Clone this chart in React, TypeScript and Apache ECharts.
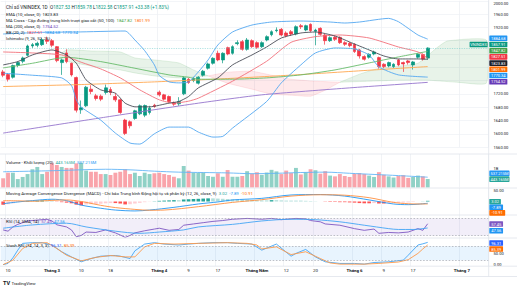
import React, { useEffect, useRef } from "react";
import * as echarts from "echarts";

const FONT = "Roboto, 'Noto Sans', 'DejaVu Sans', sans-serif";
const TEXT = "#131722";
const UP = "#089981";
const DOWN = "#f23645";

// trading sessions (the last ones are future, empty sessions)
const dates = [
  "2026-02-09","2026-02-10","2026-02-11","2026-02-12","2026-02-13","2026-02-23","2026-02-24","2026-02-25","2026-02-26","2026-02-27",
  "2026-03-02","2026-03-03","2026-03-04","2026-03-05","2026-03-06","2026-03-09","2026-03-10","2026-03-11","2026-03-12","2026-03-13",
  "2026-03-16","2026-03-17","2026-03-18","2026-03-19","2026-03-20","2026-03-23","2026-03-24","2026-03-25","2026-03-26","2026-03-27",
  "2026-03-30","2026-03-31","2026-04-01","2026-04-02","2026-04-03","2026-04-06","2026-04-07","2026-04-08","2026-04-09","2026-04-10",
  "2026-04-13","2026-04-14","2026-04-15","2026-04-16","2026-04-17","2026-04-20","2026-04-21","2026-04-22","2026-04-23","2026-04-24",
  "2026-04-28","2026-04-29","2026-05-04","2026-05-05","2026-05-06","2026-05-07","2026-05-08","2026-05-11","2026-05-12","2026-05-13",
  "2026-05-14","2026-05-15","2026-05-18","2026-05-19","2026-05-20","2026-05-21","2026-05-22","2026-05-25","2026-05-26","2026-05-27",
  "2026-05-28","2026-05-29","2026-06-01","2026-06-02","2026-06-03","2026-06-04","2026-06-05","2026-06-08","2026-06-09","2026-06-10",
  "2026-06-11","2026-06-12","2026-06-15","2026-06-16","2026-06-17","2026-06-18","2026-06-19","2026-06-22","2026-06-23","2026-06-24",
  "2026-06-25","2026-06-26","2026-06-29","2026-06-30","2026-07-01","2026-07-02","2026-07-03","2026-07-06","2026-07-07","2026-07-08",
];

const tickDates = ["2026-02-10","2026-03-02","2026-03-10","2026-03-18","2026-04-01","2026-04-09","2026-04-17","2026-05-04","2026-05-12","2026-05-20","2026-06-01","2026-06-09","2026-06-17","2026-07-01"];
const tickLabels = ["10","Tháng 3","10","18","Tháng 4","9","17","Tháng Năm","12","20","Tháng 6","9","17","Tháng 7"];
const hiddenPriceTicks = [1760, 1800, 1840, 1880];
const topPriceTick = 2000;

const opens = [
  1786,1778,1770,1806,1818,1836,1864,1866,1868,1882,
  1880,1862,1814,1843,1812,1769,1672,1684,1734,1714,
  1713,1724,1733,1712,1702,1641,1636,1646,1660,1656,
  1664,1686,1725,1717,1712,1693,1690,1720,1764,1760,
  1752,1776,1797,1812,1842,1822,1859,1842,1871,1877,
  1854,1880,1874,1862,1882,1898,1910,1914,1903,1907,
  1900,1925,1912,1929,1908,1917,1897,1880,1890,1890,
  1874,1872,1869,1852,1832,1830,1840,1829,1809,1804,
  1802,1822,1814,1819,1807,1830,1838,1827.53,
];
const closes = [
  1776,1764,1805,1814,1828,1864,1868,1872,1883,1878,
  1866,1820,1822,1817,1777,1671,1678,1740,1727,1706,
  1704,1738,1724,1702,1664,1601,1624,1669,1684,1685,
  1677,1682,1717,1704,1697,1689,1697,1768,1754,1767,
  1770,1788,1810,1827,1822,1842,1840,1862,1874,1854,
  1882,1862,1860,1874,1892,1907,1912,1897,1895,1900,
  1922,1922,1925,1910,1912,1899,1880,1889,1884,1874,
  1869,1865,1847,1834,1824,1839,1846,1802,1802,1814,
  1809,1807,1810,1814,1816,1839,1824.53,1857.91,
];
const lows = [
  1770,1757,1766,1800,1812,1833,1858,1860,1864,1870,
  1860,1815,1777,1812,1772,1664,1660,1680,1719,1700,
  1698,1718,1716,1696,1660,1596,1616,1642,1656,1650,
  1658,1678,1712,1700,1693,1684,1684,1716,1750,1755,
  1748,1772,1793,1808,1818,1812,1836,1838,1866,1850,
  1850,1858,1855,1858,1878,1893,1905,1893,1890,1894,
  1896,1915,1908,1905,1866,1895,1868,1876,1879,1870,
  1864,1860,1843,1826,1820,1826,1836,1796,1797,1800,
  1798,1803,1786,1808,1793,1826,1820,1822.58,
];
const highs = [
  1792,1782,1808,1818,1832,1868,1873,1877,1888,1892,
  1885,1864,1826,1854,1814,1772,1700,1744,1746,1720,
  1718,1748,1740,1722,1705,1645,1640,1672,1688,1688,
  1684,1690,1730,1720,1715,1697,1710,1772,1768,1770,
  1773,1792,1814,1830,1850,1845,1862,1866,1881,1882,
  1888,1884,1878,1878,1896,1911,1920,1918,1908,1912,
  1926,1930,1928,1932,1916,1920,1900,1893,1895,1893,
  1878,1876,1872,1855,1836,1842,1850,1832,1812,1817,
  1812,1825,1817,1822,1819,1842,1842,1859.78,
];

// volume in millions of shares
const volumesM = [
  480,770,770,440,550,700,950,1070,700,820,
  1260,1170,1070,1020,1020,1260,1290,880,820,820,
  700,700,650,770,820,950,700,770,600,770,
  700,740,770,700,650,560,480,1120,880,770,
  770,770,600,560,740,560,910,560,560,600,
  850,720,800,660,780,920,840,700,880,750,
  1020,680,800,950,900,720,850,620,580,700,
  600,550,720,750,700,620,550,800,660,580,
  520,600,640,500,550,620,580,443.165,
];
const volumeMA20 = [[0,820],[11,880],[21,950],[26,920],[31,850],[36,800],[41,780],[46,760],[51,720],[56,740],[61,780],[66,800],[71,740],[76,680],[81,620],[87,537.215]];

// overlays on the price pane, [session index, value]
const ema10 = [[0,1807],[3,1817],[6,1837],[10,1852],[13,1837],[15,1812],[17,1762],[20,1732],[23,1722],[25,1692],[27,1681],[30,1681],[34,1692],[36,1697],[38,1712],[40,1738],[44,1768],[47,1807],[51,1837],[54,1861],[57,1888],[61,1903],[64,1906],[68,1894],[71,1876],[75,1852],[78,1834],[81,1825],[85,1825],[87,1823.83]];
const ma50 = [[0,1798],[6,1812],[13,1830],[20,1817],[27,1797],[34,1777],[38,1770],[40,1764],[47,1764],[54,1768],[61,1777],[68,1792],[75,1813],[81,1831],[87,1847.82]];
const ma100 = [[0,1742],[16,1748],[31,1756],[46,1766],[61,1778],[76,1792],[87,1801.99]];
const ma200 = [[0,1602],[21,1650],[40,1692],[53,1717],[71,1738],[87,1754.52]];
const bbUpper = [[0,1900],[8,1905],[15,1906],[25,1909],[27,1882],[29,1850],[31,1807],[32,1775],[34,1756],[36,1753],[38,1756],[40,1786],[42,1822],[44,1867],[47,1906],[51,1927],[55,1936],[61,1939],[67,1936],[70,1933],[73,1936],[79,1947],[81,1937],[85,1897],[87,1884.68]];
const bbBasis = [[0,1846],[6,1843],[12,1837],[16,1815],[20,1795],[24,1768],[28,1732],[32,1702],[35,1692],[38,1698],[40,1707],[47,1758],[54,1818],[59,1875],[64,1892],[69,1897],[75,1888],[81,1861],[85,1846],[87,1827.51]];
const bbLower = [[0,1782],[6,1776],[12,1768],[14,1745],[15,1702],[16,1680],[20,1641],[23,1602],[26,1572],[28,1569],[31,1600],[34,1620],[38,1620],[40,1605],[43,1590],[45,1592],[47,1617],[54,1697],[57,1753],[61,1807],[64,1843],[68,1858],[72,1855],[75,1837],[77,1801],[81,1777],[87,1770.34]];

// Ichimoku cloud edges
const cloud1Upper = [[11,1830],[13,1852],[18,1849],[24,1846],[27,1828],[31,1822],[36,1813],[39,1792],[42,1774]];
const cloud1Lower = [[11,1830],[13,1818],[18,1804],[24,1792],[27,1783],[31,1774],[36,1768],[39,1771],[42,1774]];
const cloud2Upper = [[42,1774],[46,1785],[51,1788],[55,1776],[59,1764],[64,1758],[69,1755]];
const cloud2Lower = [[42,1774],[46,1752],[51,1734],[55,1719],[59,1716],[63,1713],[66,1731],[69,1755]];
const cloud3Upper = [[69,1755],[73,1779],[77,1797],[81,1803],[85,1812],[87,1835],[89,1860],[91,1879],[99,1882]];
const cloud3Lower = [[69,1755],[75,1758],[81,1761],[87,1761],[93,1755],[99,1752]];

const macdLine = [[0,-10],[3,-2],[6,4],[10,10],[13,4],[16,-16],[20,-30],[23,-38],[27,-42],[30,-38],[35,-26],[40,-11],[44,-2],[47,7],[53,14],[59,29],[65,31],[70,24],[75,7],[80,-11],[83,-14],[85,-12],[87,-7.89]];
const macdSignal = [[0,4],[3,3],[6,1],[10,5],[13,7],[16,0],[20,-17],[23,-27],[27,-35],[30,-39],[33,-38],[40,-23],[47,-4],[53,8],[59,24],[65,30],[70,28],[75,17],[80,-4],[83,-10],[85,-11],[87,-10.91]];
const macdHist = [
  -14,-12,-8,-3,1,3,3,4,5,4,
  3,-1,-3,-5,-8,-14,-17,-13,-12,-11,
  -10,-8,-7,-7,-9,-13,-12,-9,-6,-3,
  -1,1,3,4,5,6,6,9,10,11,
  12,13,14,14,13,12,11,10,9,8,
  8,7,6,5,5,6,6,5,4,4,
  4,4,3,2,1,0,-1,-2,-2,-3,
  -3,-4,-5,-7,-8,-8,-7,-9,-9,-8,
  -7,-6,-5,-4,-2,0,0.5,3.02,
];

const rsi = [[0,43],[1,40],[2,50],[3,56],[5,64],[7,66],[9,68],[10,64],[11,55],[13,50],[14,43],[15,27],[16,30],[17,38],[19,37],[21,43],[23,36],[24,31],[25,25.5],[26,30],[27,36],[29,41],[31,45],[32,47],[34,42],[36,44],[37,54],[39,57],[41,60],[43,63],[45,65],[47,68],[50,70],[53,68],[55,70],[57,67],[60,70],[62,69],[63,65],[65,62],[66,57],[69,54],[72,46],[74,42],[76,45],[77,35],[79,37],[81,36],[83,38],[85,46],[86,42],[87,57.45]];
const rsiMA = [[0,47],[6,54.7],[13,58.7],[17,50],[23,40],[28,35],[32,38],[37,43],[40,50],[47,56],[53,64],[59,68],[64,67],[69,62],[74,54],[79,46],[81,44],[84,44],[87,47.56]];

const stochK = [[0,1],[1,6],[2,30],[3,63],[4,92],[6,95],[8,95],[10,85],[12,56],[14,34],[16,13],[18,27],[20,37],[23,40],[24,37],[26,27],[27,60],[29,89],[31,95],[33,89],[36,85],[38,89],[40,92],[43,95],[46,95],[48,92],[51,89],[53,63],[56,89],[59,37],[60,49],[62,66],[64,34],[66,13],[69,6],[72,6],[74,3],[76,10],[79,13],[82,20],[83,41],[85,85],[86,90],[87,96.31]];
const stochD = [[0,1],[2,20],[4,70],[6,92],[9,95],[11,70],[13,41],[16,17],[19,32],[22,40],[25,34],[27,34],[29,77],[31,92],[35,89],[40,92],[46,95],[50,92],[52,85],[53,68],[56,77],[59,44],[62,56],[65,27],[67,8],[69,3],[74,3],[77,6],[81,12],[83,22],[85,49],[86,68],[87,85.39]];

const lastOf = (a: number[][]) => a[a.length - 1][1];
const f2 = (v: number) => v.toFixed(2);

function buildOption(): any {
  const tickIdx = tickDates.map((d) => dates.indexOf(d));
  const tickSet = new Set(tickIdx);
  const labelOf = (i: number) => tickLabels[tickIdx.indexOf(i)] ?? "";
  const n = closes.length;
  const lastClose = closes[n - 1];
  const change = lastClose - closes[n - 2];
  const pct = (change / closes[n - 2]) * 100;

  const panes = [
    { top: 0.75, height: 146.3 },
    { top: 154, height: 33.5 },
    { top: 188, height: 27 },
    { top: 215, height: 23 },
    { top: 238, height: 28 },
  ];
  const grid = panes.map((p) => ({ left: 0.7, right: 28.3, top: p.top, height: p.height, containLabel: false, outerBoundsMode: "none" }));

  const xAxis = panes.map((_, k) => ({
    type: "category", gridIndex: k, data: dates, boundaryGap: true,
    axisLine: { show: false }, axisTick: { show: false },
    axisLabel: k === 4 ? {
      show: true, interval: (i: number) => tickSet.has(i), margin: 2.6,
      fontSize: 4.4, color: TEXT, fontFamily: FONT,
      formatter: (_v: string, i: number) => { const t = labelOf(i); return t.startsWith("Tháng") ? `{m|${t}}` : t; },
      rich: { m: { fontSize: 4.4, fontWeight: "bold", color: TEXT, fontFamily: FONT } },
    } : { show: false },
    splitLine: { show: true, interval: (i: number) => tickSet.has(i), lineStyle: { color: "#eef0f4", width: 0.8 } },
  }));

  const lab = (fmt: (v: number) => string) => ({ show: true, margin: 4.8, fontSize: 4.1, color: TEXT, fontFamily: FONT, formatter: fmt });
  const bare = { axisLine: { show: false }, axisTick: { show: false } };
  const yAxis = [
    { type: "value", gridIndex: 0, position: "right", min: 1560, max: topPriceTick, interval: 40, ...bare,
      axisLabel: lab((v) => (hiddenPriceTicks.includes(v) || v === topPriceTick ? "" : f2(v))),
      splitLine: { show: true, lineStyle: { color: "#f0f2f6", width: 0.8 } } },
    { type: "value", gridIndex: 1, position: "right", min: 0, max: 1745, interval: 500, ...bare,
      axisLabel: lab((v) => (v === 1000 ? "1B" : "")), splitLine: { show: false } },
    { type: "value", gridIndex: 2, position: "right", min: -60, max: 60, interval: 10, ...bare,
      axisLabel: lab((v) => (v === 50 ? "50.00" : "")), splitLine: { show: false } },
    { type: "value", gridIndex: 3, position: "right", min: 24, max: 78, ...bare,
      axisLabel: { show: false }, splitLine: { show: false } },
    { type: "value", gridIndex: 4, position: "right", min: -5, max: 115, interval: 5, ...bare,
      axisLabel: lab((v) => (v === 0 || v === 50 ? f2(v) : "")), splitLine: { show: false } },
  ];

  const line = (data: number[][], color: string, ax: number, width = 0.9, smooth: any = 0.2, z = 4, extra: any = {}) => ({
    type: "line", xAxisIndex: ax, yAxisIndex: ax, data, symbol: "none", showSymbol: false, smooth,
    lineStyle: { color, width }, silent: true, z, ...extra,
  });

  const clouds = [
    { upper: cloud1Upper, lower: cloud1Lower, fill: "rgba(67,160,71,0.12)", edge: "rgba(67,160,71,0.28)" },
    { upper: cloud2Upper, lower: cloud2Lower, fill: "rgba(242,54,69,0.11)", edge: "rgba(242,54,69,0.22)" },
    { upper: cloud3Upper, lower: cloud3Lower, fill: "rgba(67,160,71,0.12)", edge: "rgba(67,160,71,0.28)" },
  ];

  const histColors = macdHist.map((h, k) => {
    const prev = k > 0 ? macdHist[k - 1] : h;
    if (h >= 0) return prev < h ? "#26a69a" : "#b2dfdb";
    return prev < h ? "#ffcdd2" : "#ff5252";
  });

  const series: any[] = [
    {
      type: "custom", xAxisIndex: 0, yAxisIndex: 0, z: 1, silent: true,
      data: clouds.map((c) => c.upper[0]), encode: { x: 0, y: 1 },
      renderItem: (params: any, api: any) => {
        const c = clouds[params.dataIndex];
        const pts = [...c.upper, ...c.lower.slice().reverse()].map((p) => api.coord(p));
        return { type: "polygon", shape: { points: pts, smooth: 0.15 }, style: { fill: c.fill, stroke: c.edge, lineWidth: 0.5 } };
      },
    },
    line(ma200, "#9575cd", 0),
    line(ma100, "#ffa74f", 0),
    line(ma50, "#66bb6a", 0),
    line(bbUpper, "#52a7f0", 0),
    line(bbLower, "#52a7f0", 0),
    line(bbBasis, "#f2707a", 0),
    line(ema10, "#4a4d57", 0),
    {
      type: "candlestick", xAxisIndex: 0, yAxisIndex: 0, z: 3, silent: true, barWidth: 3.3,
      data: opens.map((o, k) => [o, closes[k], lows[k], highs[k]]),
      itemStyle: { color: UP, color0: DOWN, borderColor: UP, borderColor0: DOWN, borderWidth: 0.7 },
      markLine: {
        silent: true, symbol: ["none", "none"], label: { show: false },
        lineStyle: { color: "#5cc4c4", type: [1.2, 1.2], width: 0.6, opacity: 0.8 },
        data: [{ yAxis: lastClose }],
      },
    },
    {
      type: "bar", xAxisIndex: 1, yAxisIndex: 1, z: 2, silent: true, barWidth: 3.9,
      data: volumesM.map((v, k) => ({ value: v, itemStyle: { color: closes[k] >= opens[k] ? "rgba(8,153,129,0.45)" : "rgba(242,54,69,0.45)" } })),
    },
    line(volumeMA20, "#64b5f6", 1, 0.9, 0.3),
    {
      type: "bar", xAxisIndex: 2, yAxisIndex: 2, z: 2, silent: true, barWidth: 3.6,
      data: macdHist.map((v, k) => ({ value: v, itemStyle: { color: histColors[k] } })),
    },
    line(macdLine, "#2196f3", 2, 0.9, 0.3),
    line(macdSignal, "#ff8f3f", 2, 0.9, 0.3),
    line(rsi, "#7e57c2", 3, 0.9, false, 4, {
      markArea: { silent: true, itemStyle: { color: "rgba(126,87,194,0.1)" }, data: [[{ yAxis: 70 }, { yAxis: 30 }]] },
      markLine: { silent: true, symbol: ["none", "none"], label: { show: false }, lineStyle: { color: "#9598a1", type: [1.6, 1.6], width: 0.6 }, data: [{ yAxis: 70 }, { yAxis: 30 }] },
    }),
    line(rsiMA, "#42a5f5", 3, 0.9, 0.3),
    line(stochK, "#42a5f5", 4, 0.9, false, 4, {
      markArea: { silent: true, itemStyle: { color: "rgba(33,150,243,0.1)" }, data: [[{ yAxis: 80 }, { yAxis: 20 }]] },
      markLine: { silent: true, symbol: ["none", "none"], label: { show: false }, lineStyle: { color: "#9598a1", type: [1.6, 1.6], width: 0.6 }, data: [{ yAxis: 80 }, { yAxis: 20 }] },
    }),
    line(stochD, "#ff9a4a", 4, 0.9, false),
  ];

  // ---------- graphic overlay: legends, price tags, separators ----------
  const g: any[] = [];
  const text = (x: number, y: number, parts: [string, string][], size = 4.3) => {
    const rich: any = {};
    let s = "";
    parts.forEach(([t, c], k) => {
      rich["p" + k] = { fill: c, fontSize: size, fontFamily: FONT };
      s += `{p${k}|${t}}`;
    });
    g.push({ type: "text", x, y, z: 100, silent: true, style: { text: s, rich, fontSize: size, fontFamily: FONT, fill: TEXT, verticalAlign: "middle", align: "left" } });
  };
  const tag = (x: number, y: number, label: string, color: string) => {
    const w = label.length * 2.15 + 3;
    g.push({ type: "rect", z: 101, silent: true, shape: { x, y: y - 2.8, width: w, height: 5.6, r: 0.6 }, style: { fill: color } });
    g.push({ type: "text", z: 102, silent: true, x: x + w / 2, y, style: { text: label, fill: "#ffffff", fontSize: 4, fontFamily: FONT, align: "center", verticalAlign: "middle" } });
  };
  const hLine = (y: number) => g.push({ type: "line", z: 90, silent: true, shape: { x1: 0, y1: y, x2: 517, y2: y }, style: { stroke: "#e0e3eb", lineWidth: 0.8 } });

  [154, 188, 215, 238, 266.2, 276.5].forEach(hLine);
  g.push({ type: "line", z: 90, silent: true, shape: { x1: 488.7, y1: 0, x2: 488.7, y2: 276.5 }, style: { stroke: "#e0e3eb", lineWidth: 0.8 } });

  // top price tick label, pushed inside the pane like the original scale does
  g.push({ type: "text", x: 493.5, y: 3.6, z: 100, silent: true, style: { text: f2(topPriceTick), fill: TEXT, fontSize: 4.1, fontFamily: FONT, verticalAlign: "middle", align: "left" } });

  const up = change >= 0 ? UP : DOWN;
  text(6, 7.3, [
    ["Chỉ số VNINDEX, 1D  ", TEXT], ["O", TEXT], [f2(opens[n - 1]) + " ", up], ["H", TEXT], [f2(highs[n - 1]) + " ", up],
    ["L", TEXT], [f2(lows[n - 1]) + " ", up], ["C", TEXT], [f2(lastClose) + " ", up],
    [`${change >= 0 ? "+" : ""}${f2(change)} (${pct >= 0 ? "+" : ""}${f2(pct)}%)`, up],
  ], 4.7);
  text(6, 14.6, [["EMA (10, close, 0)  ", TEXT], [f2(lastOf(ema10)), TEXT]]);
  text(6, 20.6, [["MA Cross - Cặp đường trung bình trượt giao cắt (50, 100)  ", TEXT], [f2(lastOf(ma50)) + "  ", "#43a047"], [f2(lastOf(ma100)), "#ff6d00"]]);
  text(6, 26.5, [["MA (200, close, 0)  ", TEXT], [f2(lastOf(ma200)), "#673ab7"]]);
  text(6, 32.4, [["BB (20, 2)  ", TEXT], [f2(lastOf(bbBasis)) + "  ", "#f23645"], [f2(lastOf(bbUpper)) + "  ", "#2196f3"], [f2(lastOf(bbLower)), "#2196f3"]]);
  text(6, 38.3, [["Ichimoku (9, 26, 52, 26)", TEXT]]);

  const volLast = volumesM[n - 1];
  text(6, 162, [["Volume - Khối lượng (20)  ", TEXT], [volLast.toFixed(3) + "M  ", "#26a69a"], [lastOf(volumeMA20).toFixed(3) + "M", "#2196f3"]]);
  const histLast = macdHist[n - 1];
  text(6, 193.3, [["Moving Average Convergence Divergence (MACD) - Chỉ báo Trung bình Động hội tụ và phân kỳ (12, 26, close, 9)  ", TEXT],
    [f2(histLast) + "  ", "#26a69a"], [f2(lastOf(macdLine)) + "  ", "#2196f3"], [f2(lastOf(macdSignal)), "#ff6d00"]]);
  text(6, 221.5, [["RSI (14, SMA, 14)  ", TEXT], [f2(lastOf(rsi)) + "  ", "#7e57c2"], [f2(lastOf(rsiMA)), "#2196f3"]]);
  text(6, 245, [["Stoch RSI (14, 14, 3, 3)  ", TEXT], [f2(lastOf(stochK)) + "  ", "#2962ff"], [f2(lastOf(stochD)), "#ff6d00"]]);

  // price-scale tags (stacked like the original)
  const TX = 489.3;
  const mainTags: [number, string][] = [
    [lastOf(bbUpper), "#2196f3"], [lastClose, UP], [lastOf(ma50), "#43a047"], [lastOf(bbBasis), "#f23645"],
    [lastOf(ema10), "#1e222d"], [lastOf(ma100), "#ff6d00"], [lastOf(bbLower), "#2196f3"], [lastOf(ma200), "#673ab7"],
  ];
  mainTags.forEach(([v, c], k) => tag(TX, 38.3 + k * 6.2, f2(v), c));
  tag(469.6, 38.3 + 6.2, "VNINDEX", UP);
  tag(TX, 173.3, lastOf(volumeMA20).toFixed(3) + "M", "#2196f3");
  tag(TX, 179.1, volLast.toFixed(3) + "M", "#26a69a");
  tag(TX, 201.7, f2(histLast), "#26a69a");
  tag(TX, 207.3, f2(lastOf(macdLine)), "#2196f3");
  tag(TX, 212.9, f2(lastOf(macdSignal)), "#ff6d00");
  tag(TX, 224, f2(lastOf(rsi)), "#7e57c2");
  tag(TX, 230.8, f2(lastOf(rsiMA)), "#2196f3");
  tag(TX, 243, f2(lastOf(stochK)), "#2962ff");
  tag(TX, 249, f2(lastOf(stochD)), "#ff6d00");

  g.push({ type: "text", x: 3, y: 283, z: 100, silent: true, style: { text: "TV", fill: TEXT, fontSize: 5.6, fontWeight: "bold", fontFamily: FONT, verticalAlign: "middle" } });
  g.push({ type: "text", x: 11.5, y: 283, z: 100, silent: true, style: { text: "TradingView", fill: TEXT, fontSize: 4.4, fontFamily: FONT, verticalAlign: "middle" } });

  return {
    animation: false,
    backgroundColor: "#ffffff",
    textStyle: { fontFamily: FONT },
    grid, xAxis, yAxis, series,
    graphic: { elements: g },
  };
}

export default function App() {
  const ref = useRef<HTMLDivElement>(null);
  useEffect(() => {
    if (!ref.current) return;
    const chart = echarts.init(ref.current, undefined, { renderer: "svg" });
    chart.setOption(buildOption());
    return () => chart.dispose();
  }, []);
  return <div ref={ref} style={{ position: "absolute", left: 0, top: 0, width: 517, height: 288 }} />;
}
